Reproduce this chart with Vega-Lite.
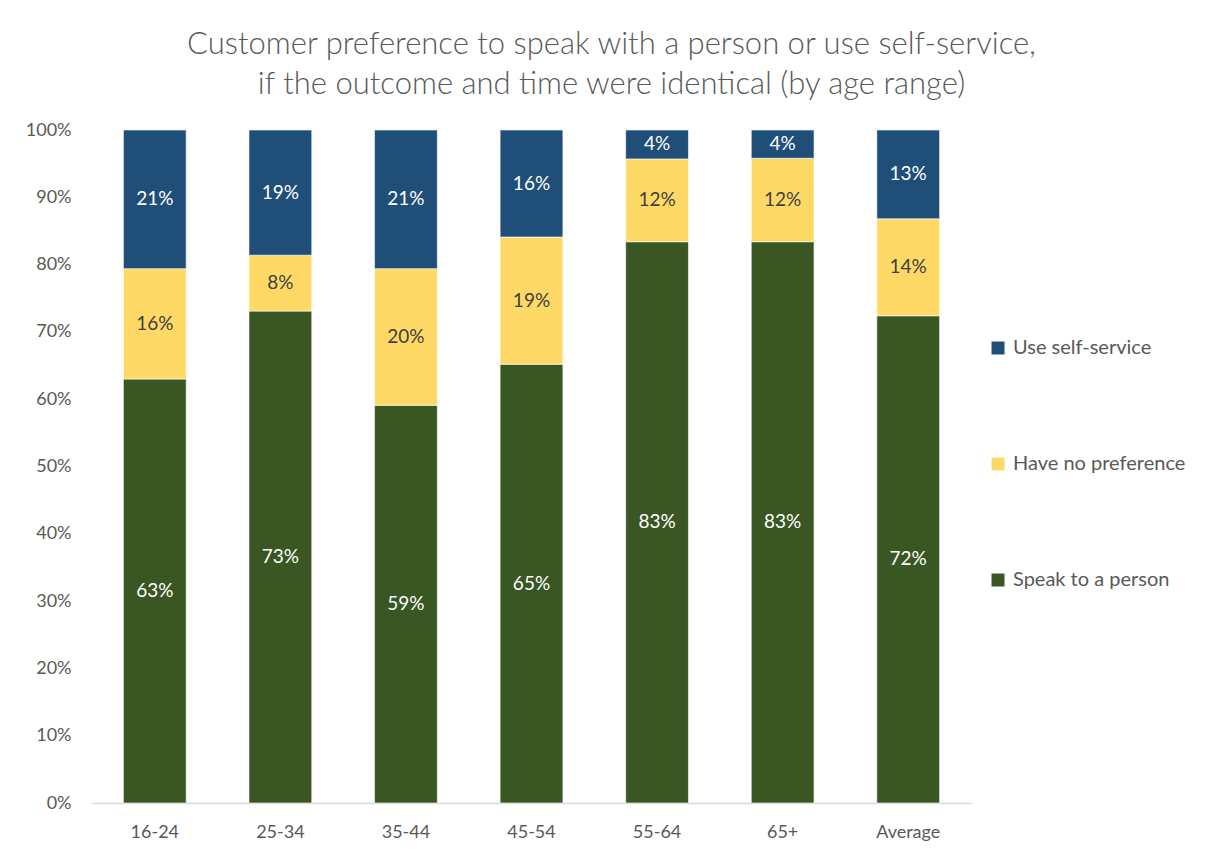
{
  "$schema": "https://vega.github.io/schema/vega-lite/v6.json",
  "autosize": {"type": "none"},
  "padding": {"left": 92, "top": 130, "right": 235, "bottom": 46},
  "width": 879,
  "height": 673,
  "background": "white",
  "config": {
    "font": "Lato",
    "view": {"stroke": null}
  },
  "title": {
    "text": ["Customer preference to speak with a person or use self-service,", "if the outcome and time were identical (by age range)"],
    "anchor": "middle",
    "frame": "group",
    "dx": 80,
    "offset": 20,
    "fontSize": 31,
    "fontWeight": 300,
    "lineHeight": 40,
    "color": "#595959",
    "font": "Lato"
  },
  "data": {
    "values": [
      {"age": "16-24", "series": "Speak to a person", "rank": 1, "share": 0.630},
      {"age": "16-24", "series": "Have no preference", "rank": 2, "share": 0.164},
      {"age": "16-24", "series": "Use self-service", "rank": 3, "share": 0.206},
      {"age": "25-34", "series": "Speak to a person", "rank": 1, "share": 0.731},
      {"age": "25-34", "series": "Have no preference", "rank": 2, "share": 0.083},
      {"age": "25-34", "series": "Use self-service", "rank": 3, "share": 0.186},
      {"age": "35-44", "series": "Speak to a person", "rank": 1, "share": 0.591},
      {"age": "35-44", "series": "Have no preference", "rank": 2, "share": 0.203},
      {"age": "35-44", "series": "Use self-service", "rank": 3, "share": 0.206},
      {"age": "45-54", "series": "Speak to a person", "rank": 1, "share": 0.652},
      {"age": "45-54", "series": "Have no preference", "rank": 2, "share": 0.189},
      {"age": "45-54", "series": "Use self-service", "rank": 3, "share": 0.159},
      {"age": "55-64", "series": "Speak to a person", "rank": 1, "share": 0.834},
      {"age": "55-64", "series": "Have no preference", "rank": 2, "share": 0.123},
      {"age": "55-64", "series": "Use self-service", "rank": 3, "share": 0.043},
      {"age": "65+", "series": "Speak to a person", "rank": 1, "share": 0.834},
      {"age": "65+", "series": "Have no preference", "rank": 2, "share": 0.124},
      {"age": "65+", "series": "Use self-service", "rank": 3, "share": 0.042},
      {"age": "Average", "series": "Speak to a person", "rank": 1, "share": 0.724},
      {"age": "Average", "series": "Have no preference", "rank": 2, "share": 0.144},
      {"age": "Average", "series": "Use self-service", "rank": 3, "share": 0.132}
    ]
  },
  "transform": [
    {"stack": "share", "groupby": ["age"], "sort": [{"field": "rank", "order": "ascending"}], "as": ["v0", "v1"]},
    {"calculate": "(datum.v0 + datum.v1) / 2", "as": "mid"}
  ],
  "encoding": {
    "x": {
      "field": "age",
      "type": "nominal",
      "sort": null,
      "scale": {"paddingInner": 0.5, "paddingOuter": 0.25},
      "axis": {
        "title": null,
        "labelAngle": 0,
        "labelFontSize": 18,
        "labelColor": "#595959",
        "labelPadding": 20,
        "ticks": false,
        "domainColor": "#d9d9d9",
        "domainWidth": 1.3
      }
    }
  },
  "layer": [
    {
      "mark": {"type": "bar", "stroke": "white", "strokeWidth": 0.6},
      "encoding": {
        "y": {
          "field": "v1",
          "type": "quantitative",
          "scale": {"domain": [0, 1], "nice": false},
          "axis": {
            "title": null,
            "format": ".0%",
            "values": [0, 0.1, 0.2, 0.3, 0.4, 0.5, 0.6, 0.7, 0.8, 0.9, 1],
            "grid": false,
            "domain": false,
            "ticks": false,
            "labelFontSize": 18,
            "labelColor": "#595959",
            "labelPadding": 21
          }
        },
        "y2": {"field": "v0"},
        "color": {
          "field": "series",
          "type": "nominal",
          "scale": {
            "domain": ["Use self-service", "Have no preference", "Speak to a person"],
            "range": ["#1F4E79", "#FFD966", "#3A5623"]
          },
          "legend": {
            "title": null,
            "orient": "none",
            "legendX": 896,
            "legendY": 208,
            "symbolType": "square",
            "symbolSize": 169,
            "symbolStrokeWidth": 0,
            "labelFontSize": 20,
            "labelColor": "#595959",
            "labelOffset": 5,
            "labelLimit": 300,
            "rowPadding": 96
          }
        }
      }
    },
    {
      "mark": {"type": "text", "fontSize": 19, "baseline": "middle", "align": "center"},
      "encoding": {
        "y": {"field": "mid", "type": "quantitative"},
        "text": {"field": "share", "type": "quantitative", "format": ".0%"},
        "color": {
          "condition": {"test": "datum.series === 'Have no preference'", "value": "#404040"},
          "value": "white"
        }
      }
    }
  ]
}
